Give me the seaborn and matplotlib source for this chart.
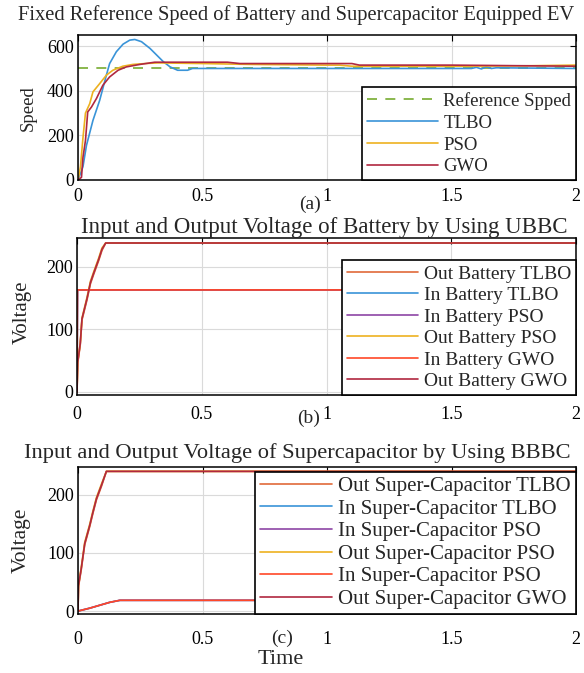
import matplotlib
matplotlib.use("Agg")
import matplotlib.pyplot as plt
import seaborn as sns

# ---- panel (a): speed ----
t_ref = [0, 2]
speed_ref = [500, 500]

t_tlbo = [0, 0.02, 0.034, 0.06, 0.087, 0.114, 0.127, 0.154, 0.181, 0.208, 0.228,
          0.255, 0.289, 0.316, 0.343, 0.37, 0.40, 0.44, 0.46, 1.58, 1.6, 1.62,
          1.64, 1.66, 1.68, 2.0]
speed_tlbo = [0, 60, 155, 267, 357, 470, 522, 575, 609, 627, 630,
              620, 590, 560, 530, 507, 492, 492, 500, 500, 505, 498,
              507, 500, 503, 500]

t_pso = [0, 0.01, 0.02, 0.03, 0.047, 0.06, 0.087, 0.114, 0.14, 0.18, 0.22,
         0.27, 0.32, 0.5, 0.7, 1.0, 1.05, 1.1, 1.5, 1.8, 2.0]
speed_pso = [0, 60, 190, 300, 342, 395, 432, 470, 492, 510, 518,
             522, 525, 522, 518, 515, 515, 510, 510, 512, 515]

t_gwo = [0, 0.014, 0.02, 0.03, 0.039, 0.054, 0.074, 0.1, 0.127, 0.161, 0.194,
         0.248, 0.308, 0.6, 0.65, 1.1, 1.13, 1.5, 1.8, 2.0]
speed_gwo = [0, 12, 102, 177, 305, 327, 365, 425, 462, 492, 507,
             518, 528, 528, 522, 522, 515, 515, 512, 510]

# ---- panel (b): battery voltage ----
t_batt_out = [0, 0.003, 0.013, 0.02, 0.04, 0.054, 0.067, 0.087, 0.1, 0.115, 2.0]
v_out_batt_tlbo = [0, 46, 75, 115, 147, 173, 188, 210, 226, 238, 238]
v_out_batt_pso = [0, 48, 78, 118, 151, 177, 192, 214, 230, 238, 238]
v_out_batt_gwo = [0, 48, 77, 117, 149, 175, 190, 212, 228, 238, 238]
t_batt_in = [0, 0.002, 2.0]
v_in_batt_tlbo = [0, 163, 163]
v_in_batt_pso = [0, 163, 163]
v_in_batt_gwo = [0, 163, 163]

# ---- panel (c): supercapacitor voltage ----
t_sc_out = [0, 0.002, 0.013, 0.027, 0.047, 0.06, 0.074, 0.094, 0.114, 2.0]
v_out_sc_tlbo = [0, 42, 71, 114, 145, 168, 191, 214, 240, 240]
v_out_sc_pso = [0, 45, 75, 118, 149, 172, 195, 218, 240, 240]
v_out_sc_gwo = [0, 44, 73, 116, 147, 170, 193, 216, 240, 240]
t_sc_in = [0, 0.047, 0.087, 0.127, 0.168, 2.0]
v_in_sc_tlbo = [0, 5, 10, 15, 18.5, 18.5]
v_in_sc_pso = [0, 5, 10, 15, 18.5, 18.5]
v_in_sc_pso2 = [0, 5, 10, 15, 18.5, 18.5]

x_ticks = [0, 0.5, 1, 1.5, 2]
x_ticklabels = ["0", "0.5", "1", "1.5", "2"]

c_green = "#77AC30"
c_blue = "#3A94D8"
c_yellow = "#EDB120"
c_darkred = "#B02840"
c_orange = "#E06A3A"
c_purple = "#8E45A6"
c_redorange = "#FF4828"

sns.set_theme(style="white")
plt.rcParams["font.family"] = ["Liberation Serif", "DejaVu Serif"]

W, H = 584, 673
fig = plt.figure(figsize=(W / 100, H / 100), dpi=100)


def add_axes(left, top, right, bottom):
    return fig.add_axes([left / W, 1 - bottom / H, (right - left) / W, (bottom - top) / H])


def style_axes(ax, ylim, yticks, xpad):
    ax.set_xlim(0, 2)
    ax.set_ylim(*ylim)
    ax.set_xticks(x_ticks)
    ax.set_xticklabels(x_ticklabels)
    ax.set_yticks(yticks)
    ax.set_yticklabels([str(v) for v in yticks])
    ax.grid(True, color="#dadada", lw=0.8)
    ax.set_axisbelow(True)
    for s in ax.spines.values():
        s.set_color("black")
        s.set_linewidth(1.1)
    ax.tick_params(direction="in", length=4, width=0.8, top=True, right=True,
                   labelsize=13, colors="black", pad=3)
    ax.tick_params(axis="x", pad=xpad)
    ax.set_xlabel("")
    ax.set_ylabel("")


def line(ax, x, y, color, label, **kw):
    sns.lineplot(x=x, y=y, ax=ax, color=color, lw=1.2, label=label,
                 estimator=None, sort=False, **kw)


def legend(ax, size, spacing, hlen):
    leg = ax.legend(loc="lower right", borderaxespad=0, frameon=True, fancybox=False,
                    edgecolor="black", framealpha=1, fontsize=size, handlelength=hlen,
                    handletextpad=0.3, labelspacing=spacing, borderpad=0.25)
    leg.get_frame().set_linewidth(1.2)


# (a)
ax_a = add_axes(78, 35, 576, 180)
line(ax_a, t_ref, speed_ref, c_green, "Reference Spped")
ax_a.lines[-1].set_dashes((6, 5))
line(ax_a, t_tlbo, speed_tlbo, c_blue, "TLBO")
line(ax_a, t_pso, speed_pso, c_yellow, "PSO")
line(ax_a, t_gwo, speed_gwo, c_darkred, "GWO")
style_axes(ax_a, (0, 650), [0, 200, 400, 600], 6)
legend(ax_a, 13.5, 0.25, 3.8)

# (b)
ax_b = add_axes(77, 238, 576, 395)
line(ax_b, t_batt_out, v_out_batt_tlbo, c_orange, "Out Battery TLBO")
line(ax_b, t_batt_in, v_in_batt_tlbo, c_blue, "In Battery TLBO")
line(ax_b, t_batt_in, v_in_batt_pso, c_purple, "In Battery PSO")
line(ax_b, t_batt_out, v_out_batt_pso, c_yellow, "Out Battery PSO")
line(ax_b, t_batt_in, v_in_batt_gwo, c_redorange, "In Battery GWO")
line(ax_b, t_batt_out, v_out_batt_gwo, c_darkred, "Out Battery GWO")
style_axes(ax_b, (-5, 246), [0, 100, 200], 8)
legend(ax_b, 14, 0.2, 3.65)

# (c)
ax_c = add_axes(78, 467, 576, 614)
line(ax_c, t_sc_out, v_out_sc_tlbo, c_orange, "Out Super-Capacitor TLBO")
line(ax_c, t_sc_in, v_in_sc_tlbo, c_blue, "In Super-Capacitor TLBO")
line(ax_c, t_sc_in, v_in_sc_pso, c_purple, "In Super-Capacitor PSO")
line(ax_c, t_sc_out, v_out_sc_pso, c_yellow, "Out Super-Capacitor PSO")
line(ax_c, t_sc_in, v_in_sc_pso2, c_redorange, "In Super-Capacitor PSO")
line(ax_c, t_sc_out, v_out_sc_gwo, c_darkred, "Out Super-Capacitor GWO")
style_axes(ax_c, (-5, 247.5), [0, 100, 200], 12)
legend(ax_c, 15, 0.14, 3.45)

# titles and labels
fig.text(296 / W, 1 - 15 / H, "Fixed Reference Speed of Battery and Supercapacitor Equipped EV",
         ha="center", va="center", fontsize=14.8)
fig.text(324 / W, 1 - 227 / H, "Input and Output Voltage of Battery by Using UBBC",
         ha="center", va="center", fontsize=16.5)
fig.text(297 / W, 1 - 453 / H, "Input and Output Voltage of Supercapacitor by Using BBBC",
         ha="center", va="center", fontsize=16.2)
fig.text(28 / W, 1 - 108 / H, "Speed", rotation=90, ha="center", va="center", fontsize=13.5)
fig.text(22 / W, 1 - 312 / H, "Voltage", rotation=90, ha="center", va="center", fontsize=15)
fig.text(21 / W, 1 - 540 / H, "Voltage", rotation=90, ha="center", va="center", fontsize=15.5)
fig.text(310 / W, 1 - 204 / H, "(a)", ha="center", va="center", fontsize=14)
fig.text(309 / W, 1 - 418 / H, "(b)", ha="center", va="center", fontsize=14)
fig.text(282 / W, 1 - 638 / H, "(c)", ha="center", va="center", fontsize=14)
fig.text(281 / W, 1 - 660 / H, "Time", ha="center", va="center", fontsize=16)

fig.savefig("out.png", dpi=100)
